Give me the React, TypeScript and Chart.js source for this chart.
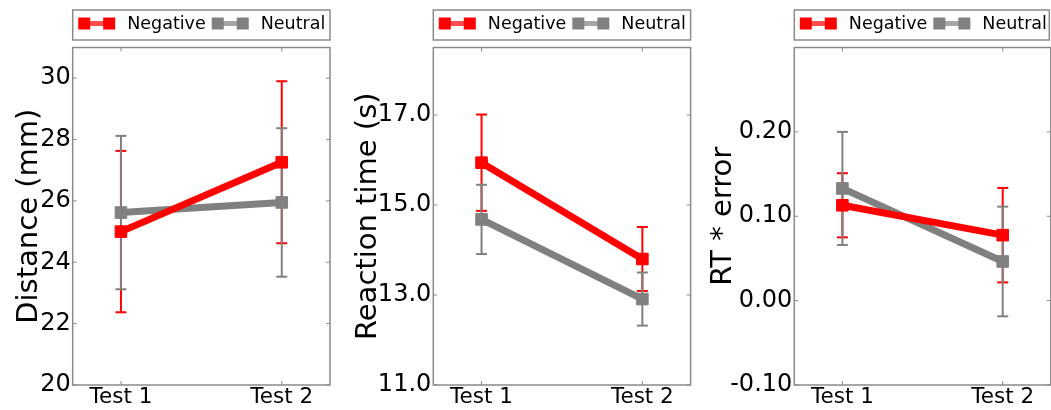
import React, { useEffect, useRef } from 'react';
import { Chart, registerables } from 'chart.js';

Chart.register(...registerables);

// ---------- data ----------
const CATEGORIES = ['Test 1', 'Test 2'];
const SERIES_NAMES = ['Negative', 'Neutral'];
const SERIES_COLORS = ['#ff0000', '#808080'];
const LEGEND_LINE_COLORS = ['rgba(255,0,0,0.7)', 'rgba(128,128,128,0.7)'];

// Panel 1: Distance (mm)
const DIST_NEG = [25.0, 27.26];
const DIST_NEG_ERR = [2.63, 2.64];
const DIST_NEU = [25.62, 25.95];
const DIST_NEU_ERR = [2.5, 2.42];
const DIST_TICKS = [20, 22, 24, 26, 28, 30];

// Panel 2: Reaction time (s)
const RT_NEG = [15.94, 13.8];
const RT_NEG_ERR = [1.07, 0.71];
const RT_NEU = [14.68, 12.91];
const RT_NEU_ERR = [0.77, 0.59];
const RT_TICKS = [11, 13, 15, 17];

// Panel 3: RT * error
const RTE_NEG = [0.113, 0.0776];
const RTE_NEG_ERR = [0.038, 0.056];
const RTE_NEU = [0.133, 0.0464];
const RTE_NEU_ERR = [0.067, 0.065];
const RTE_TICKS = [-0.1, 0, 0.1, 0.2];

const FONT = '"DejaVu Sans", "Liberation Sans", sans-serif';
const SPINE = '#8a8a8a';

type PanelCfg = {
  title: string;
  series: number[][];
  errors: number[][];
  ticks: number[];
  min: number;
  max: number;
  decimals: number;
  left: number;
  width: number;
  yW: number;
  padR: number;
  titlePad: number;
  legendW?: number;
};

const PANELS: PanelCfg[] = [
  {
    title: 'Distance (mm)',
    series: [DIST_NEG, DIST_NEU],
    errors: [DIST_NEG_ERR, DIST_NEU_ERR],
    ticks: DIST_TICKS,
    min: 20,
    max: 31,
    decimals: 0,
    left: 0,
    width: 345,
    yW: 72.7,
    padR: 15,
    titlePad: 11.6,
  },
  {
    title: 'Reaction time (s)',
    series: [RT_NEG, RT_NEU],
    errors: [RT_NEG_ERR, RT_NEU_ERR],
    ticks: RT_TICKS,
    min: 11,
    max: 18.5,
    decimals: 1,
    left: 345,
    width: 360,
    yW: 88.3,
    padR: 14.4,
    titlePad: 5.6,
  },
  {
    title: 'RT * error',
    series: [RTE_NEG, RTE_NEU],
    errors: [RTE_NEG_ERR, RTE_NEU_ERR],
    ticks: RTE_TICKS,
    min: -0.1,
    max: 0.3,
    decimals: 2,
    left: 700,
    width: 360,
    yW: 94.3,
    padR: 8.4,
    titlePad: 5.6,
    legendW: 255,
  },
];

function line(ctx: CanvasRenderingContext2D, x1: number, y1: number, x2: number, y2: number) {
  ctx.beginPath();
  ctx.moveTo(x1, y1);
  ctx.lineTo(x2, y2);
  ctx.stroke();
}

function Panel({ cfg }: { cfg: PanelCfg }) {
  const ref = useRef<HTMLCanvasElement>(null);

  useEffect(() => {
    const canvas = ref.current;
    if (!canvas) return;

    const decor = {
      id: 'decor',
      beforeDatasetsDraw(chart: any) {
        const { ctx, scales } = chart;
        const xs = scales.x;
        const ys = scales.y;
        ctx.save();
        ctx.lineWidth = 2;
        cfg.series.forEach((vals, i) => {
          ctx.strokeStyle = SERIES_COLORS[i];
          vals.forEach((v, j) => {
            const px = xs.getPixelForValue(j);
            const yt = ys.getPixelForValue(v + cfg.errors[i][j]);
            const yb = ys.getPixelForValue(v - cfg.errors[i][j]);
            line(ctx, px, yt, px, yb);
            line(ctx, px - 5.5, yt, px + 5.5, yt);
            line(ctx, px - 5.5, yb, px + 5.5, yb);
          });
        });
        ctx.restore();
      },
      afterDraw(chart: any) {
        const { ctx, chartArea: a, scales } = chart;
        const xs = scales.x;
        const ys = scales.y;
        ctx.save();
        // spines
        ctx.strokeStyle = SPINE;
        ctx.lineWidth = 1.5;
        ctx.strokeRect(a.left, a.top, a.right - a.left, a.bottom - a.top);
        // inward ticks
        ctx.lineWidth = 1;
        cfg.ticks.forEach((v) => {
          const py = ys.getPixelForValue(v);
          line(ctx, a.left, py, a.left + 4, py);
          line(ctx, a.right - 4, py, a.right, py);
        });
        CATEGORIES.forEach((_, i) => {
          const px = xs.getPixelForValue(i);
          line(ctx, px, a.bottom, px, a.bottom - 4);
          line(ctx, px, a.top, px, a.top + 4);
        });
        // legend
        const bx = a.left;
        const by = 10;
        const bw = cfg.legendW ?? a.right - a.left;
        const bh = 30;
        ctx.fillStyle = '#ffffff';
        ctx.fillRect(bx, by, bw, bh);
        ctx.strokeStyle = SPINE;
        ctx.lineWidth = 1.5;
        ctx.strokeRect(bx, by, bw, bh);
        ctx.font = `17.5px ${FONT}`;
        ctx.textBaseline = 'alphabetic';
        ctx.textAlign = 'left';
        let s1 = bx + 11.5;
        const cy = 23.5;
        SERIES_NAMES.forEach((name, i) => {
          const s2 = s1 + 25;
          ctx.strokeStyle = LEGEND_LINE_COLORS[i];
          ctx.lineWidth = 5;
          line(ctx, s1, cy, s2, cy);
          ctx.fillStyle = SERIES_COLORS[i];
          ctx.fillRect(s1 - 6, cy - 6, 12, 12);
          ctx.fillRect(s2 - 6, cy - 6, 12, 12);
          const tx = s2 + 18;
          ctx.fillStyle = '#000000';
          ctx.fillText(name, tx, 29.3);
          s1 = tx + ctx.measureText(name).width + 12;
        });
        ctx.restore();
      },
    };

    const datasets = cfg.series.map((vals, i) => ({
      label: SERIES_NAMES[i],
      data: vals.map((v, j) => ({ x: j, y: v })),
      borderColor: SERIES_COLORS[i],
      backgroundColor: SERIES_COLORS[i],
      pointBackgroundColor: SERIES_COLORS[i],
      pointBorderColor: SERIES_COLORS[i],
      borderWidth: 7,
      pointStyle: 'rect',
      pointRadius: 8.2,
      pointBorderWidth: 1,
      tension: 0,
      clip: false,
    }));

    const chart = new Chart(canvas, {
      type: 'line',
      data: { datasets },
      plugins: [decor],
      options: {
        animation: false,
        responsive: false,
        events: [],
        layout: { padding: { top: 47.5, right: cfg.padR, left: 0, bottom: 0 } },
        plugins: {
          legend: { display: false },
          tooltip: { enabled: false },
        },
        scales: {
          x: {
            type: 'linear',
            min: -0.3,
            max: 1.3,
            grid: { display: false, drawTicks: false },
            border: { display: false },
            afterBuildTicks: (scale: any) => {
              scale.ticks = CATEGORIES.map((_, i) => ({ value: i }));
            },
            afterFit: (scale: any) => {
              scale.height = 25;
            },
            ticks: {
              autoSkip: false,
              maxRotation: 0,
              padding: 0,
              color: '#000000',
              font: { family: FONT, size: 21.5 },
              callback: (v: any) => CATEGORIES[Number(v)] ?? '',
            },
          },
          y: {
            type: 'linear',
            min: cfg.min,
            max: cfg.max,
            grid: { display: false, drawTicks: false },
            border: { display: false },
            afterBuildTicks: (scale: any) => {
              scale.ticks = cfg.ticks.map((v) => ({ value: v }));
            },
            afterFit: (scale: any) => {
              scale.width = cfg.yW;
            },
            ticks: {
              autoSkip: false,
              padding: 2,
              color: '#000000',
              font: { family: FONT, size: 24 },
              callback: (v: any) => Number(v).toFixed(cfg.decimals),
            },
            title: {
              display: true,
              text: cfg.title,
              color: '#000000',
              font: { family: FONT, size: 29, lineHeight: 1.2 },
              padding: { top: cfg.titlePad, bottom: 0 },
            },
          },
        },
      } as any,
    });

    return () => chart.destroy();
  }, [cfg]);

  return (
    <canvas
      ref={ref}
      width={cfg.width}
      height={410}
      style={{ position: 'absolute', left: cfg.left, top: 0, width: cfg.width, height: 410 }}
    />
  );
}

export default function App() {
  return (
    <div
      style={{
        position: 'fixed',
        left: 0,
        top: 0,
        width: 1051,
        height: 410,
        overflow: 'hidden',
        background: '#ffffff',
      }}
    >
      {PANELS.map((p, i) => (
        <Panel key={i} cfg={p} />
      ))}
    </div>
  );
}
